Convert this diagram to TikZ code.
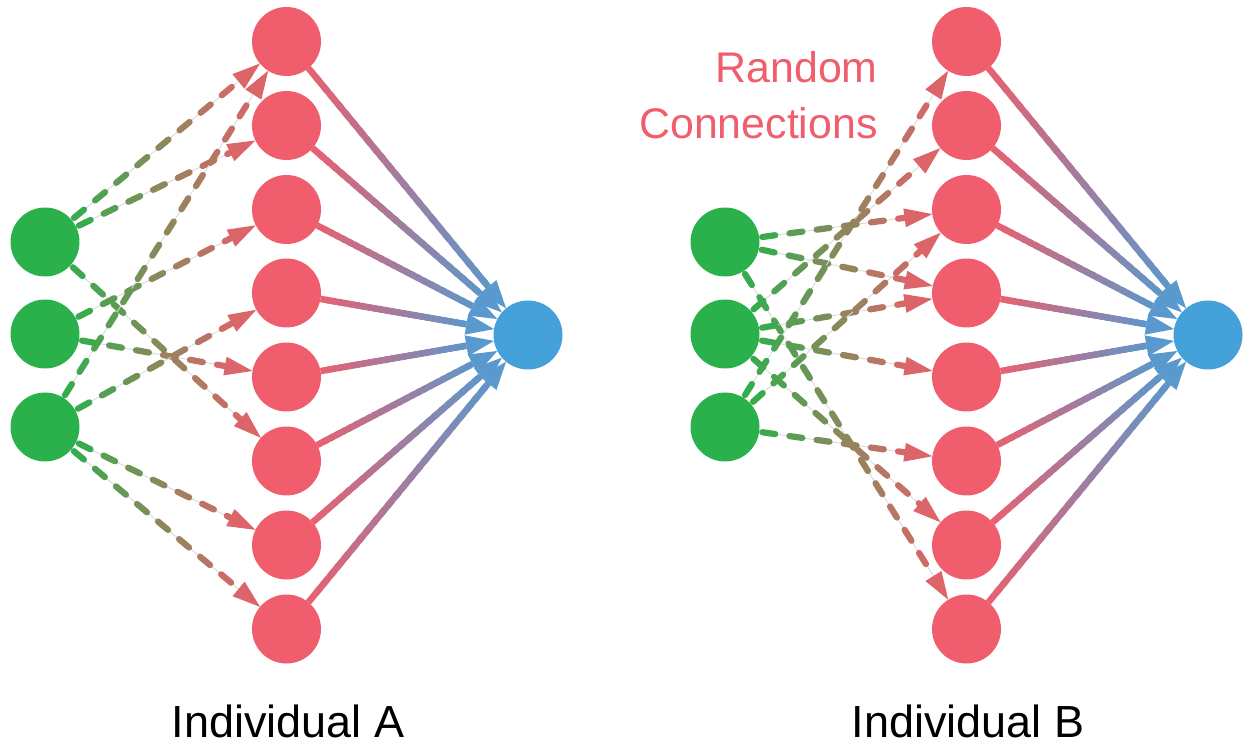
\documentclass[tikz,border=0pt]{standalone}
\usepackage{fontspec}
\setmainfont{Liberation Sans}
\usetikzlibrary{calc}
\definecolor{cgreen}{HTML}{2AB14C}
\definecolor{cred}{HTML}{F05D6C}
\definecolor{cblue}{HTML}{45A1DA}
% geometry constants
\def\mynr{0.69cm}   % node radius
\def\myal{0.56cm}   % solid arrow length
\def\myaw{0.21cm}   % solid arrow half width
\def\mydal{0.56cm}  % dashed arrow length
\def\mydaw{0.19cm}  % dashed arrow half width
\def\myslw{0.13cm}  % solid line width
\def\mydlw{0.125cm} % dashed line width
\def\mycap{1.8}     % pt
\def\myper{15.6}    % pt
\def\myon{7.4}      % pt
\newcommand{\solidlink}[2]{%
  \coordinate (ls) at ($(#1)!\mynr!(#2)$);
  \coordinate (le) at ($(#2)!\mynr!(#1)$);
  \coordinate (lm) at ($(le)!\myal!(ls)$);
  \foreach \k in {0,...,24}{%
    \pgfmathsetmacro{\myta}{\k/25}%
    \pgfmathsetmacro{\mytb}{min((\k+1.6)/25,1)}%
    \pgfmathtruncatemacro{\mypc}{5+80*(\k+0.5)/25}%
    \draw[line width=\myslw, color=cblue!\mypc!cred] ($(ls)!\myta!(lm)$) -- ($(ls)!\mytb!(lm)$);
  }
  \fill[cblue!88!cred] (le) -- ($(lm)!\myaw!90:(le)$) -- ($(lm)!\myaw!-90:(le)$) -- cycle;
}
\newcommand{\dashlink}[2]{%
  \coordinate (ds) at ($(#1)!\mynr!(#2)$);
  \coordinate (de) at ($(#2)!\mynr!(#1)$);
  \coordinate (dm) at ($(de)!\mydal!(ds)$);
  \pgfpointdiff{\pgfpointanchor{ds}{center}}{\pgfpointanchor{dm}{center}}%
  \pgfgetlastxy{\mydxx}{\mydyy}%
  \pgfmathsetmacro{\mydlen}{veclen(\mydxx,\mydyy)}%
  \draw[line width=0.5pt, black!15] (ds) -- (dm);
  \pgfmathtruncatemacro{\mynd}{floor((\mydlen-\mycap)/\myper)}%
  \foreach \k in {0,...,\mynd}{%
    \pgfmathsetmacro{\myta}{(\mycap+\k*\myper)/\mydlen}%
    \pgfmathsetmacro{\mytb}{min((\mycap+\k*\myper+\myon)/\mydlen,1)}%
    \pgfmathtruncatemacro{\mypc}{4+84*(\myta+\mytb)/2}%
    \draw[line width=\mydlw, line cap=round, color=cred!\mypc!cgreen] ($(ds)!\myta!(dm)$) -- ($(ds)!\mytb!(dm)$);
  }
  \fill[cred!90!cgreen] (de) -- ($(dm)!\mydaw!90:(de)$) -- ($(dm)!\mydaw!-90:(de)$) -- cycle;
}
\begin{document}
\begin{tikzpicture}[x=0.02cm,y=-0.02cm,
  neuron/.style={circle, minimum size=1.38cm, inner sep=0pt, draw=none},
  gnode/.style={neuron, fill=cgreen},
  rnode/.style={neuron, fill=cred},
  bnode/.style={neuron, fill=cblue},
  caption/.style={font=\fontsize{25.6}{30}\selectfont, text=black},
  redlabel/.style={font=\fontsize{24.4}{28}\selectfont, text=cred, inner sep=0pt}]
\useasboundingbox (0,0) rectangle (1250,750);
% ---------- Individual A ----------
\node[gnode] (ga1) at (45,242) {};
\node[gnode] (ga2) at (45,334) {};
\node[gnode] (ga3) at (45,427) {};
\foreach \i/\yy in {1/41.5,2/125.5,3/209.5,4/293,5/377,6/461,7/545,8/629}{
  \node[rnode] (ra\i) at (286.5,\yy) {};
}
\node[bnode] (ba) at (528,335) {};
% ---------- Individual B ----------
\node[gnode] (gb1) at (725,242) {};
\node[gnode] (gb2) at (725,334) {};
\node[gnode] (gb3) at (725,427) {};
\foreach \i/\yy in {1/41.5,2/125.5,3/209.5,4/293,5/377,6/461,7/545,8/629}{
  \node[rnode] (rb\i) at (966.5,\yy) {};
}
\node[bnode] (bb) at (1208,335) {};
% ---------- solid links ----------
\foreach \i in {1,...,8}{
  \solidlink{ra\i}{ba}
  \solidlink{rb\i}{bb}
}
% ---------- dashed links A ----------
\dashlink{ga1}{ra1}
\dashlink{ga1}{ra2}
\dashlink{ga1}{ra6}
\dashlink{ga2}{ra3}
\dashlink{ga2}{ra5}
\dashlink{ga3}{ra1}
\dashlink{ga3}{ra4}
\dashlink{ga3}{ra7}
\dashlink{ga3}{ra8}
% ---------- dashed links B ----------
\dashlink{gb1}{rb3}
\dashlink{gb1}{rb4}
\dashlink{gb1}{rb8}
\dashlink{gb2}{rb2}
\dashlink{gb2}{rb4}
\dashlink{gb2}{rb5}
\dashlink{gb2}{rb7}
\dashlink{gb3}{rb1}
\dashlink{gb3}{rb3}
\dashlink{gb3}{rb6}
% ---------- labels ----------
\node[caption, anchor=base] (capA) at (288,737) {Individual A};
\node[caption, anchor=base] (capB) at (968,737) {Individual B};
\node[redlabel, anchor=base east] (rnd) at (878,83) {Random};
\node[redlabel, anchor=base east] (cnx) at (878,138) {Connections};
\end{tikzpicture}
\end{document}
